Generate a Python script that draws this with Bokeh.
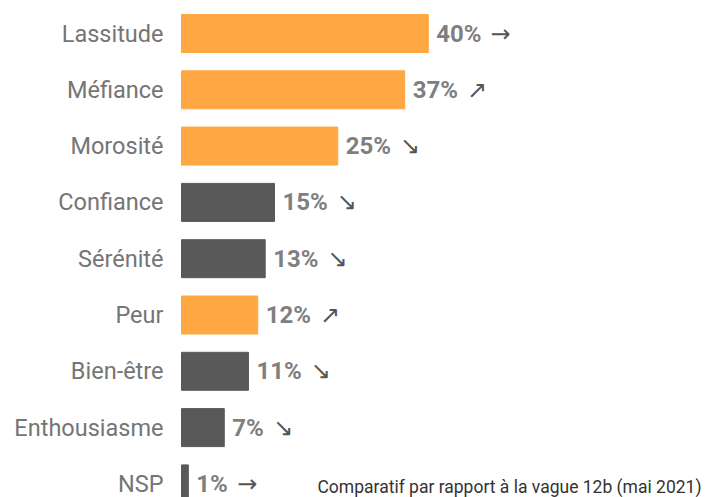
from bokeh.plotting import figure
from bokeh.models import ColumnDataSource, Range1d, Label
from bokeh.core.properties import value
from bokeh.embed import file_html
from bokeh.resources import INLINE

categories = ["Lassitude", "Méfiance", "Morosité", "Confiance", "Sérénité",
              "Peur", "Bien-être", "Enthousiasme", "NSP"]
values = [39.8, 36.0, 25.2, 15.0, 13.5, 12.3, 10.8, 6.9, 1.1]
value_labels = ["40%", "37%", "25%", "15%", "13%", "12%", "11%", "7%", "1%"]
trends = ["→", "↗", "↘", "↘", "↘", "↗", "↘", "↘", "→"]
groups = ["neg", "neg", "neg", "pos", "pos", "neg", "pos", "pos", "pos"]
footnote = "Comparatif par rapport à la vague 12b (mai 2021)"

ORANGE = "#FFA843"
DARK = "#595959"
colors = [ORANGE if g == "neg" else DARK for g in groups]

W, H = 705, 497
px_per_unit = 6.2
x0 = 181
row_h = 56.3
top_c = 33

ys = list(range(len(categories)))
# arrow offsets from estimated label widths (Roboto bold 24px)
arrow_off = [8 + (len(s) - 1) * 13.4 + 17.5 + 10 for s in value_labels]

src = ColumnDataSource(dict(y=ys, v=values, cat=categories, lab=value_labels,
                            tr=trends, color=colors, aoff=arrow_off))

p = figure(width=W, height=H, output_backend="svg", toolbar_location=None,
           x_range=Range1d(-x0 / px_per_unit, (W - x0) / px_per_unit),
           y_range=Range1d((H - top_c) / row_h, -top_c / row_h),
           min_border=0, outline_line_color=None)
p.axis.visible = False
p.grid.visible = False
p.background_fill_color = "white"
p.border_fill_color = "white"

p.hbar(y="y", left=0, right="v", height=38 / row_h, color="color", source=src)

p.text(x=0, y="y", text="cat", x_offset=-18, text_align="right",
       text_baseline="middle", text_font=value("Roboto"), text_font_size="23.5px",
       text_color="#757575", source=src)

p.text(x="v", y="y", text="lab", x_offset=8, text_align="left",
       text_baseline="middle", text_font=value("Roboto"), text_font_size="24px",
       text_font_style="bold", text_color="#7f7f7f", source=src)

p.text(x="v", y="y", text="tr", x_offset="aoff", text_align="left",
       text_baseline="middle", text_font=value("DejaVu Sans"), text_font_size="24px",
       text_color="#555555", source=src)

p.add_layout(Label(x=W - 4, y=1, x_units="screen", y_units="screen", text=footnote,
                   text_align="right", text_baseline="bottom",
                   text_font="Roboto", text_font_size="17.5px", text_color="#333333"))

open("out.html", "w").write(file_html(p, INLINE))
